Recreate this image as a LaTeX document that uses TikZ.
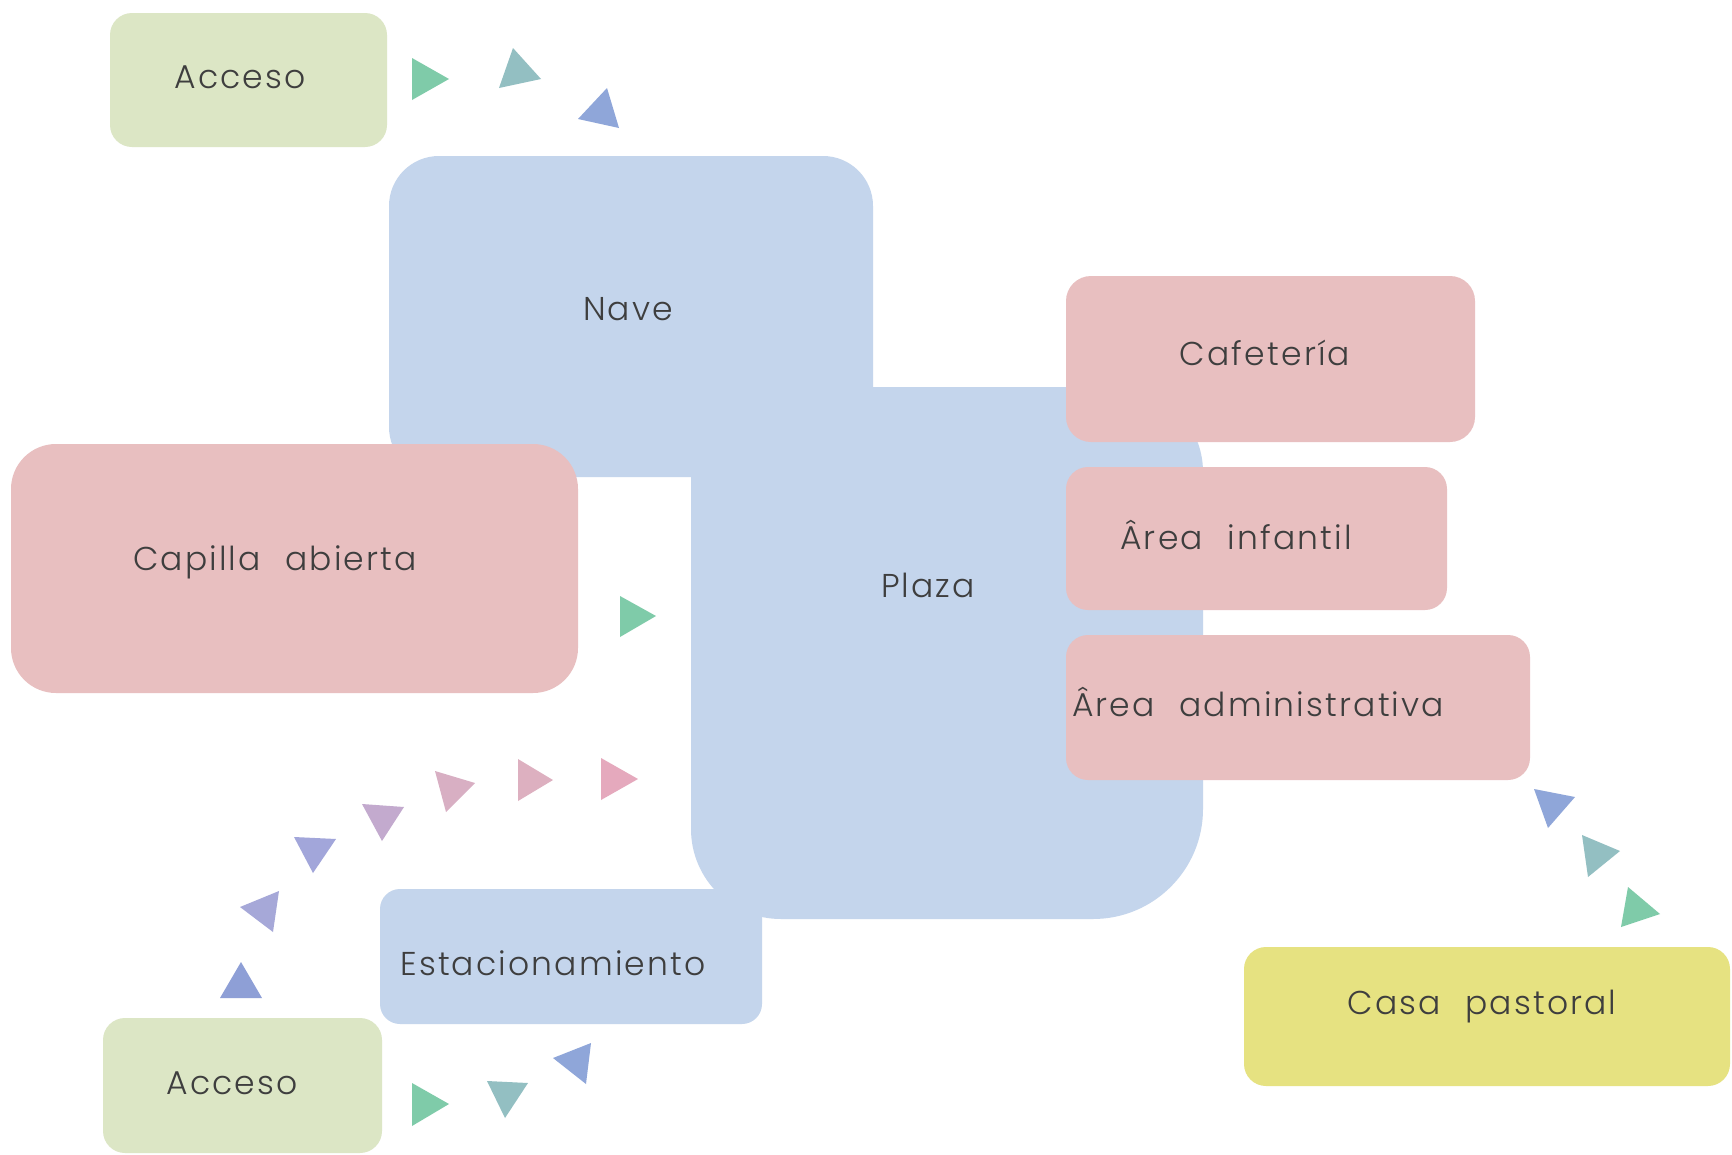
\documentclass[tikz,border=0pt]{standalone}
\usepackage{fontspec}
\setmainfont{Poppins}[UprightFont={* Light},LetterSpace=6.5,WordSpace=2.2]
\definecolor{bxgreen}{HTML}{DCE6C5}
\definecolor{bxblue}{HTML}{C4D5EC}
\definecolor{bxpink}{HTML}{E8BFC0}
\definecolor{bxyellow}{HTML}{E6E281}
\definecolor{txt}{HTML}{3E3E3E}
\definecolor{tgreen}{HTML}{7FCBA9}
\definecolor{tteal}{HTML}{93BFC2}
\definecolor{tblue}{HTML}{8FA6D9}
\definecolor{tblue2}{HTML}{8E9FD6}
\definecolor{tpurp}{HTML}{A6A8D8}
\definecolor{tpurp2}{HTML}{A2A6DA}
\definecolor{tmauve}{HTML}{C3AACE}
\definecolor{tpink1}{HTML}{D8AFC3}
\definecolor{tpink2}{HTML}{DDB0C0}
\definecolor{tpink3}{HTML}{E5A9BD}
\tikzset{
  lbl/.style={text=txt, font=\fontsize{33}{36}\selectfont, inner sep=0pt},
}
\begin{document}
\begin{tikzpicture}[x=1pt,y=-1pt]
\fill[white] (0,0) rectangle (1732,1154);
\useasboundingbox (0,0) rectangle (1732,1154);
% Nave and Plaza
\fill[bxblue, rounded corners=50pt] (389,477) -- (389,156) -- (873,156) -- (873,477) -- cycle;
\fill[bxblue] (691,387) [rounded corners=85pt] -- (1203,387) [rounded corners=110pt] -- (1203,919) [rounded corners=90pt] -- (691,919) [sharp corners] -- (691,387) -- cycle;
% Pink boxes
\fill[bxpink, rounded corners=45pt] (11,444) rectangle (578,693);
\fill[bxpink, rounded corners=25pt] (1066,276) rectangle (1475,442);
\fill[bxpink, rounded corners=22pt] (1066,467) rectangle (1447,610);
\fill[bxpink, rounded corners=22pt] (1066,635) rectangle (1530,780);
% Estacionamiento
\fill[bxblue, rounded corners=20pt] (380,889) rectangle (762,1024);
% Accesos
\fill[bxgreen, rounded corners=22pt] (110,13) rectangle (387,147);
\fill[bxgreen, rounded corners=22pt] (103,1018) rectangle (382,1153);
% Casa pastoral
\fill[bxyellow, rounded corners=22pt] (1244,947) rectangle (1730,1086);
% labels
\node[lbl] (acc1) at (240,77) {Acceso};
\node[lbl] (nave) at (628,309) {Nave};
\node[lbl] (plaza) at (928,585) {Plaza};
\node[lbl] (cafe) at (1265,353) {Cafetería};
\node[lbl] (infa) at (1236,535) {Ârea infantil};
\node[lbl, anchor=west] (admi) at (1072,702) {Ârea administrativa};
\node[lbl] (capi) at (275,562) {Capilla abierta};
\node[lbl] (esta) at (553,963) {Estacionamiento};
\node[lbl] (acc2) at (232,1083) {Acceso};
\node[lbl] (casa) at (1482,1007) {Casa pastoral};
% triangles top
\fill[tgreen] (412,58) -- (412,100) -- (449,79) -- cycle;
\fill[tteal] (513,48) -- (499,88) -- (541,79) -- cycle;
\fill[tblue] (607,88) -- (578,119) -- (619,128) -- cycle;
% triangle near capilla
\fill[tgreen] (620,596) -- (620,637) -- (656,616) -- cycle;
% arc of triangles
\fill[tblue2] (241,962) -- (220,998) -- (262,998) -- cycle;
\fill[tpurp] (279,891) -- (240,907) -- (273,932) -- cycle;
\fill[tpurp2] (294,837) -- (336,839) -- (313,873) -- cycle;
\fill[tmauve] (362,804) -- (404,807) -- (382,841) -- cycle;
\fill[tpink1] (435,771) -- (475,783) -- (446,812) -- cycle;
\fill[tpink2] (518,759) -- (553,780) -- (518,801) -- cycle;
\fill[tpink3] (601,758) -- (638,779) -- (601,800) -- cycle;
% right triangles
\fill[tblue] (1534,789) -- (1575,797) -- (1548,828) -- cycle;
\fill[tteal] (1582,835) -- (1620,851) -- (1588,877) -- cycle;
\fill[tgreen] (1628,887) -- (1660,914) -- (1621,927) -- cycle;
% bottom triangles
\fill[tgreen] (412,1083) -- (412,1126) -- (449,1104) -- cycle;
\fill[tteal] (487,1081) -- (528,1083) -- (505,1118) -- cycle;
\fill[tblue] (591,1043) -- (553,1058) -- (586,1084) -- cycle;
\end{tikzpicture}
\end{document}
